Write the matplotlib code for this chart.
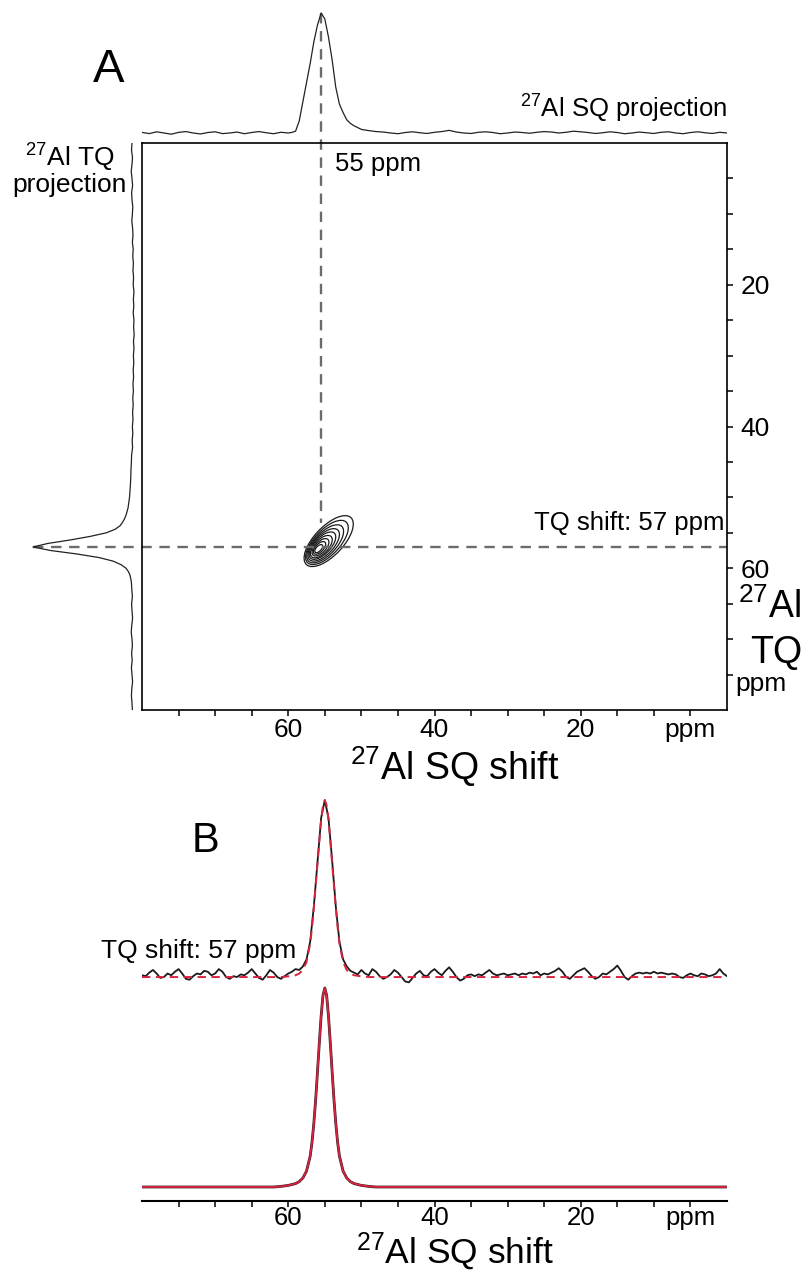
import numpy as np
import matplotlib
matplotlib.use("Agg")
import matplotlib.pyplot as plt
from matplotlib.patches import Ellipse

plt.rcParams["font.family"] = ["Liberation Sans", "DejaVu Sans"]
plt.rcParams["mathtext.fontset"] = "custom"
plt.rcParams["mathtext.rm"] = "Liberation Sans"
plt.rcParams["mathtext.default"] = "regular"
plt.rcParams["lines.scale_dashes"] = False

W, H = 808, 1272

# --- panel A: peak positions (ppm) ---
SQ_PEAK = 55.5
TQ_PEAK = 57.0
VLINE_END = 53.6          # dashed guide stops just above the contour

# SQ projection (top trace), intensity relative to peak
sq_ppm = np.concatenate([np.arange(80, 60, -1.0),
                         np.arange(60, 49.9, -0.5),
                         np.arange(49, -0.1, -1.0)])
sq_int = ([0.005, -0.005, 0.01, 0.0, -0.01, 0.005, 0.012, 0.0, -0.008, 0.004,
           0.01, -0.005, 0.0, 0.008, -0.006, 0.004, 0.012, 0.002, -0.006, 0.006]
          + [0.0, 0.005, 0.015, 0.1, 0.26, 0.42, 0.58, 0.76, 0.9, 1.0, 0.95,
             0.8, 0.61, 0.38, 0.24, 0.17, 0.11, 0.08, 0.06, 0.045, 0.03]
          + [0.02, 0.012, 0.008, 0.0, -0.006, 0.004, 0.01, 0.002, -0.004, 0.006,
             0.012, 0.022, 0.008, 0.0, -0.004, 0.006, 0.01, 0.004, -0.006, 0.0,
             0.008, 0.004, -0.002, 0.006, 0.012, 0.008, 0.0, 0.006, 0.015, 0.01,
             0.004, -0.004, 0.002, 0.01, 0.004, -0.006, 0.0, 0.008, 0.002, -0.004,
             0.006, 0.01, 0.0, -0.006, 0.004, 0.01, 0.002, -0.004, 0.006, 0.0])

# TQ projection (left trace)
tq_ppm = np.concatenate([np.arange(0, 50, 1.0),
                         np.arange(50, 62.1, 0.5),
                         np.arange(63, 80.1, 1.0)])
tq_int = ([0.0, 0.005, -0.005, 0.0, 0.008, 0.0, -0.006, 0.004, 0.0, -0.008,
           -0.004, 0.002, -0.006, -0.01, -0.004, -0.012, -0.008, -0.014, -0.01, -0.016,
           -0.012, -0.02, -0.014, -0.018, -0.012, -0.02, -0.016, -0.022, -0.015, -0.02,
           -0.014, -0.018, -0.012, -0.016, -0.01, -0.014, -0.008, -0.012, -0.006, -0.01,
           -0.004, -0.008, -0.002, -0.006, 0.004, 0.006, 0.01, 0.012, 0.015, 0.02]
          + [0.025, 0.03, 0.035, 0.04, 0.05, 0.06, 0.075, 0.095, 0.12, 0.17, 0.26,
             0.42, 0.62, 0.85, 1.0, 0.82, 0.55, 0.33, 0.19, 0.11, 0.06, 0.035,
             0.02, 0.012, 0.006]
          + [0.002, -0.004, 0.004, 0.0, -0.006, 0.002, 0.008, 0.0, -0.004, 0.004,
             -0.002, 0.006, 0.0, -0.006, 0.002, 0.006, 0.0, -0.004])

# 2D contour rings (outer -> inner): centre (SQ, TQ), length and width in ppm
ring_sq = [54.47, 54.71, 54.95, 55.15, 55.32, 55.47, 55.59, 55.72, 55.83]
ring_tq = [56.17, 56.36, 56.55, 56.70, 56.81, 56.95, 57.04, 57.13, 57.23]
ring_len = [9.0, 7.8, 6.7, 5.7, 4.8, 3.9, 3.0, 2.2, 1.4]
ring_wid = [4.0, 3.5, 3.05, 2.65, 2.25, 1.9, 1.5, 1.1, 0.7]
RING_ANGLE = 47.8

# --- panel B: slice at TQ 57 ppm (black, noisy) and fits (red) ---
b_ppm = np.arange(80, -0.1, -0.5)
b_exp = [0.01, 0.005, 0.025, 0.04, 0.02, -0.005, 0.0, 0.02, 0.01, 0.03,
         0.045, 0.02, -0.01, -0.015, 0.005, 0.02, 0.015, 0.035, 0.03, 0.01,
         0.02, 0.045, 0.03, 0.0, -0.01, 0.005, 0.0, 0.015, 0.01, 0.025,
         0.045, 0.02, -0.005, -0.015, 0.01, 0.04, 0.025, 0.0, -0.01, 0.005,
         0.02, 0.03, 0.045, 0.04, 0.06, 0.1, 0.2, 0.4, 0.65, 0.9,
         1.0, 0.9, 0.66, 0.4, 0.2, 0.1, 0.06, 0.035, 0.025, 0.015,
         0.04, 0.02, 0.01, 0.045, 0.03, 0.005, -0.01, 0.0, 0.015, 0.04,
         0.025, 0.0, -0.025, -0.03, -0.005, 0.02, 0.035, 0.01, 0.005, 0.03,
         0.045, 0.025, 0.01, 0.035, 0.055, 0.03, 0.0, -0.02, -0.01, 0.01,
         0.015, 0.005, 0.015, 0.01, 0.025, 0.04, 0.02, 0.01, 0.015, 0.02,
         0.01, 0.015, 0.02, 0.01, 0.02, 0.015, 0.025, 0.02, 0.03, 0.01,
         0.02, 0.015, 0.025, 0.035, 0.05, 0.03, 0.0, -0.01, 0.01, 0.03,
         0.04, 0.05, 0.03, 0.005, -0.01, 0.0, 0.02, 0.015, 0.03, 0.045,
         0.065, 0.035, 0.0, -0.015, 0.005, 0.02, 0.025, 0.02, 0.025, 0.02,
         0.03, 0.02, 0.025, 0.02, 0.015, 0.02, 0.015, 0.0, -0.005, 0.01,
         0.02, 0.01, 0.005, 0.02, 0.015, 0.005, 0.01, 0.02, 0.045, 0.02,
         0.005]

fit_ppm = [80, 62, 61, 60, 59, 58.5, 58, 57.5, 57, 56.75, 56.5, 56.25, 56, 55.75,
           55.5, 55.25, 55, 54.75, 54.5, 54.25, 54, 53.75, 53.5, 53.25, 53, 52.5,
           52, 51.5, 51, 50, 49, 48, 0]
fit_up = [0, 0, 0.0, 0.004, 0.01, 0.02, 0.04, 0.085, 0.19, 0.28, 0.39, 0.52, 0.64,
          0.77, 0.89, 0.97, 1.0, 0.97, 0.89, 0.77, 0.64, 0.52, 0.39, 0.28, 0.19,
          0.085, 0.04, 0.02, 0.01, 0.004, 0.0, 0, 0]
fit_low = [0, 0, 0.003, 0.008, 0.017, 0.027, 0.045, 0.08, 0.155, 0.225, 0.32, 0.44,
           0.58, 0.725, 0.86, 0.963, 1.0, 0.963, 0.86, 0.725, 0.58, 0.44, 0.32,
           0.225, 0.155, 0.08, 0.045, 0.027, 0.017, 0.008, 0.003, 0, 0]

B_UP_OFFSET = 1.055
B_UP_SCALE = 0.889

ticks = np.arange(5, 80, 5)
xlabels = {60: "60", 40: "40", 20: "20", 5: "ppm"}
ylabels = {20: "20", 40: "40", 60: "60"}

GRAY = "#6b6b6b"
RED = "#d8233f"


def box(l, t, r, b):
    return [l / W, 1 - b / H, (r - l) / W, (b - t) / H]


def ftext(x, y, s, **kw):
    fig.text(x / W, 1 - y / H, s, **kw)


fig = plt.figure(figsize=(W / 100, H / 100), dpi=100)

ax = fig.add_axes(box(142, 143, 727, 710))
ax_top = fig.add_axes(box(142, 0, 727, 143))
ax_left = fig.add_axes(box(0, 143, 142, 710))
ax_b = fig.add_axes(box(142, 790, 727, 1201))

# top projection
ax_top.plot(sq_ppm, sq_int, color="#222222", lw=0.9)
ax_top.set_xlim(80, 0)
ax_top.set_ylim(-0.0833, 1.108)
ax_top.axis("off")

# left projection
ax_left.plot(tq_int, tq_ppm, color="#222222", lw=0.9)
ax_left.set_xlim(1.333, -0.101)
ax_left.set_ylim(80, 0)
ax_left.axis("off")

# main 2D box
ax.set_xlim(80, 0)
ax.set_ylim(80, 0)
for s in ax.spines.values():
    s.set_linewidth(1.2)
for cs, ct, ln, wd in zip(ring_sq, ring_tq, ring_len, ring_wid):
    ax.add_patch(Ellipse((cs, ct), ln, wd, angle=RING_ANGLE, fill=False,
                         ec="#1a1a1a", lw=0.9))

ax.set_xticks(ticks)
ax.set_xticklabels([xlabels.get(int(t), "") for t in ticks])
ax.yaxis.tick_right()
ax.set_yticks(ticks)
ax.set_yticklabels([ylabels.get(int(t), "") for t in ticks])
ax.tick_params(axis="both", direction="out", length=4.5, width=1.1, labelsize=19)
ax.tick_params(axis="x", pad=1)
ax.tick_params(axis="y", pad=5)

# dashed guides, ends taken from the projection tips
fig.canvas.draw()
tip_y = ax.transData.inverted().transform(
    ax_top.transData.transform((SQ_PEAK, 1.0)))[1]
tip_x = ax.transData.inverted().transform(
    ax_left.transData.transform((1.0, TQ_PEAK)))[0]
ax.plot([SQ_PEAK, SQ_PEAK], [tip_y, VLINE_END], color=GRAY, lw=1.7,
        dashes=(7.5, 5.5), clip_on=False, zorder=1)
ax.plot([tip_x, 0], [TQ_PEAK, TQ_PEAK], color=GRAY, lw=1.7,
        dashes=(7.5, 5.5), clip_on=False, zorder=1)

# panel B
ax_b.plot(b_ppm, B_UP_OFFSET + B_UP_SCALE * np.array(b_exp), color="#1a1a1a", lw=1.3)
ax_b.plot(fit_ppm, B_UP_OFFSET + B_UP_SCALE * np.array(fit_up), color=RED, lw=1.4,
          dashes=(6, 4))
ax_b.plot(fit_ppm, fit_low, color="#3a1a22", lw=2.0)
ax_b.plot(fit_ppm, fit_low, color=RED, lw=1.3)
ax_b.set_xlim(80, 0)
ax_b.set_ylim(-0.0704, 1.995)
for k in ("top", "left", "right"):
    ax_b.spines[k].set_visible(False)
ax_b.spines["bottom"].set_linewidth(1.5)
ax_b.set_yticks([])
ax_b.set_xticks(ticks)
ax_b.set_xticklabels([xlabels.get(int(t), "") for t in ticks])
ax_b.tick_params(axis="x", direction="out", length=4.5, width=1.1, labelsize=18.5,
                 pad=-1)
ax_b.patch.set_alpha(0)

# texts
ftext(93, 82, "A", fontsize=34, ha="left", va="baseline")
ftext(727, 118, "$^{27}$Al SQ projection", fontsize=18.5, ha="right", va="baseline")
ftext(335, 171, "55 ppm", fontsize=18.5, ha="left", va="baseline")
ftext(70, 167, "$^{27}$Al TQ", fontsize=19, ha="center", va="baseline")
ftext(70, 192, "projection", fontsize=19, ha="center", va="baseline")
ftext(724, 530, "TQ shift: 57 ppm", fontsize=18.5, ha="right", va="baseline")
ftext(770, 618, "$^{27}$Al", fontsize=27, ha="center", va="baseline")
ftext(776, 663, "TQ", fontsize=27, ha="center", va="baseline")
ftext(761, 691, "ppm", fontsize=19, ha="center", va="baseline")
ftext(455, 780, "$^{27}$Al SQ shift", fontsize=27, ha="center", va="baseline")
ftext(192, 852, "B", fontsize=30, ha="left", va="baseline")
ftext(296, 958, "TQ shift: 57 ppm", fontsize=19, ha="right", va="baseline")
ftext(455, 1264, "$^{27}$Al SQ shift", fontsize=25.5, ha="center", va="baseline")

fig.savefig("out.png", dpi=100)
